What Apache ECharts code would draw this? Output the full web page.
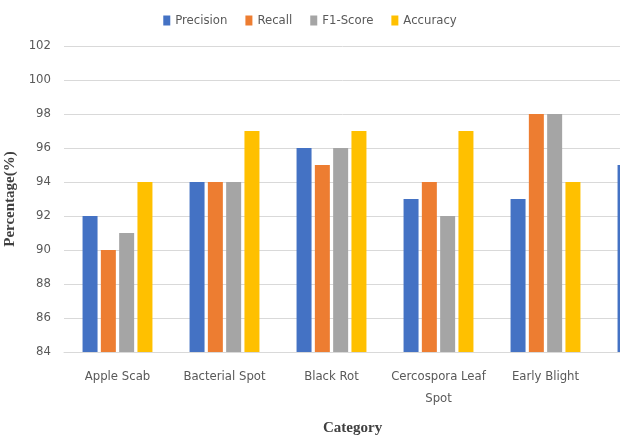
<!DOCTYPE html>
<html>
<head>
<meta charset="utf-8">
<script src="https://cdn.jsdelivr.net/npm/echarts@6/dist/echarts.min.js"></script>
<style>
    html, body { margin: 0; padding: 0; background: #fff; }
    #chart { width: 620px; height: 437px; }
</style>
</head>
<body>
<div id="chart"></div>
<script>
    // categories (the sixth one is cut off at the right edge of the picture)
    var categories = ['Apple Scab', 'Bacterial Spot', 'Black Rot', 'Cercospora Leaf\nSpot', 'Early Blight', 'Late Blight'];
    var precision = [92, 94, 96, 93, 93, 95];
    var recall = [90, 94, 95, 94, 98, null];
    var f1Score = [91, 94, 96, 92, 98, null];
    var accuracy = [94, 97, 97, 97, 94, null];
    var yTicks = { min: 84, max: 102, step: 2 };

    var labelFont = '"Liberation Sans Narrow", "DejaVu Sans Condensed", sans-serif';
    var titleFont = '"Liberation Serif", "DejaVu Serif", serif';

    function bar(name, data, color) {
        return {
            name: name,
            type: 'bar',
            data: data,
            barWidth: 15,
            barGap: '22%',
            itemStyle: { color: color, borderRadius: 0 }
        };
    }

    var option = {
        animation: false,
        legend: {
            top: 9,
            left: 'center',
            itemWidth: 7,
            itemHeight: 10,
            itemGap: 18,
            icon: 'rect',
            textStyle: { color: '#595959', fontSize: 13, fontFamily: labelFont }
        },
        title: {
            text: 'Category',
            left: 318,
            top: 416,
            textStyle: { fontFamily: titleFont, fontWeight: 'bold', fontSize: 15, color: '#404040' }
        },
        // the plot runs past the right edge, like the cropped original
        grid: { left: 64, width: 642, top: 46, bottom: 85, outerBoundsMode: 'none' },
        xAxis: {
            type: 'category',
            data: categories,
            axisLine: { lineStyle: { color: '#d9d9d9' } },
            axisTick: { show: false },
            axisLabel: { color: '#595959', fontSize: 13, fontFamily: labelFont, margin: 14, interval: 0, lineHeight: 22 }
        },
        yAxis: {
            type: 'value',
            min: yTicks.min,
            max: yTicks.max,
            interval: yTicks.step,
            name: 'Percentage(%)',
            nameLocation: 'middle',
            nameGap: 42,
            nameTextStyle: { fontFamily: titleFont, fontWeight: 'bold', fontSize: 15, color: '#404040' },
            axisLine: { show: false },
            axisTick: { show: false },
            axisLabel: { color: '#595959', fontSize: 13, fontFamily: labelFont, margin: 13 },
            splitLine: { lineStyle: { color: '#d9d9d9' } }
        },
        series: [
            bar('Precision', precision, '#4472C4'),
            bar('Recall', recall, '#ED7D31'),
            bar('F1-Score', f1Score, '#A5A5A5'),
            bar('Accuracy', accuracy, '#FFC000')
        ]
    };

    var myChart = echarts.init(document.getElementById('chart'));
    myChart.setOption(option);
</script>
</body>
</html>
